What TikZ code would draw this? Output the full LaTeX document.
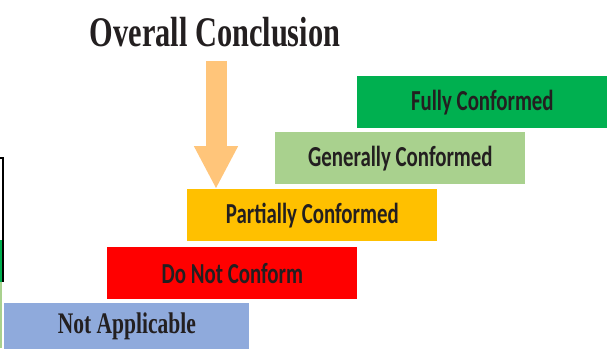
\documentclass[tikz,border=0pt]{standalone}
\usepackage{fontspec}
\setmainfont{Carlito}
\newfontfamily\titlefont{Liberation Serif}
\usetikzlibrary{arrows.meta}

\definecolor{fullgreen}{HTML}{00B050}
\definecolor{genlgreen}{HTML}{A9D18E}
\definecolor{partyellow}{HTML}{FFC000}
\definecolor{notred}{HTML}{FF0000}
\definecolor{nablue}{HTML}{8FAADC}
\definecolor{arroworange}{HTML}{FFC57A}
\definecolor{inkgray}{HTML}{231F20}

\newcommand{\squeeze}[1]{\scalebox{.72}[1]{#1}}

\tikzset{
  level/.style={minimum width=250*0.02cm, minimum height=52*0.02cm,
    inner sep=0pt, text=inkgray, font=\fontsize{16.5}{18}\selectfont\bfseries},
  bigarrow/.style={line width=21*0.02cm, draw=arroworange,
    -{Triangle[width=41*0.02cm, length=43*0.02cm]}}
}

\begin{document}
\begin{tikzpicture}[x=0.02cm, y=-0.02cm]
  \useasboundingbox (0, 0) rectangle (614, 348);
  %
  % cut-off bits at the left edge
  \fill[fullgreen] (0, 240) rectangle (2, 282);
  \fill[genlgreen] (0, 282) rectangle (2, 348);
  \draw[line width=0.04cm] (0, 158) -- (3, 158) -- (3, 282);
  %
  \node[level, fill=fullgreen, anchor=north west] at (357, 76) (full)
    {\squeeze{Fully Conformed}};
  \node[level, fill=genlgreen, anchor=north west] at (275, 132) (general)
    {\squeeze{Generally Conformed}};
  \node[level, fill=partyellow, anchor=north west] at (187, 189) (partial)
    {\squeeze{Partially Conformed}};
  \node[level, fill=notred, anchor=north west] at (107, 247) (notconf)
    {\squeeze{Do Not Conform}};
  \node[level, fill=nablue, anchor=north west, minimum width=245*0.02cm,
    minimum height=46*0.02cm, font=\titlefont\fontsize{17}{18}\selectfont\bfseries]
    at (4, 303) (notappl) {\squeeze{Not Applicable}};
  %
  \node[text=inkgray, inner sep=0pt, font=\titlefont\fontsize{24}{26}\selectfont\bfseries]
    at (215, 32) (title) {\squeeze{Overall Conclusion}};
  %
  \coordinate (arrowtop) at (216, 61);
  \draw[bigarrow] (arrowtop) -- (partial.north -| arrowtop);
\end{tikzpicture}
\end{document}
